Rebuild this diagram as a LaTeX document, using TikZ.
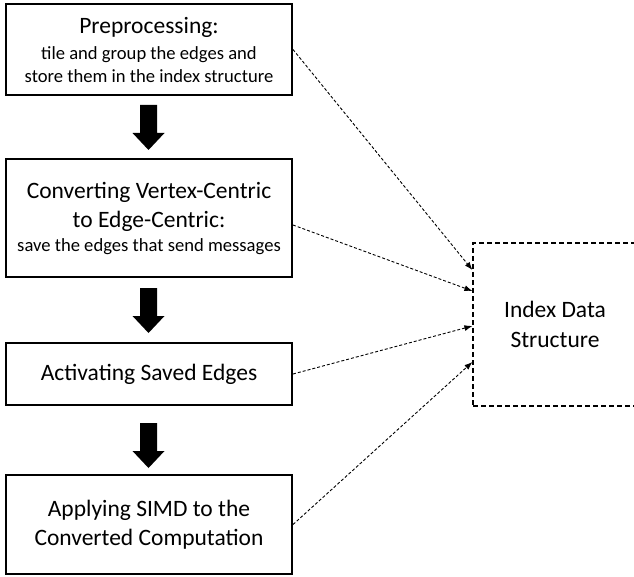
\documentclass[tikz,border=0pt]{standalone}
\usepackage{fontspec}
\setmainfont{Carlito}
\usetikzlibrary{arrows.meta}
\begin{document}
\begin{tikzpicture}[x=1pt,y=1pt,
  stepbox/.style={draw=black, line width=2pt, minimum width=286pt, align=center, inner sep=0pt},
  bigf/.style={font=\fontsize{23.5}{29.5}\selectfont},
  link/.style={densely dashed, line width=0.9pt, -{Latex[length=8pt,width=6pt]}},
  blockarr/.pic={\fill[black] (-8.5,0) -- (8.5,0) -- (8.5,-28) -- (16,-28) -- (0,-45) -- (-16,-28) -- (-8.5,-28) -- cycle;}]
\useasboundingbox (0,0) rectangle (634,-577);
\newcommand{\smallf}{\fontsize{18.6}{22.7}\selectfont}
\node[stepbox, bigf, minimum height=91pt] (b1) at (149,-49.5)
  {Preprocessing:\\[-3pt]{\smallf tile and group the edges and}\\[-7pt]{\smallf store them in the index structure}};
\node[stepbox, bigf, minimum height=118pt] (b2) at (149,-218)
  {Converting Vertex-Centric\\to Edge-Centric:\\[-6pt]{\smallf save the edges that send messages}};
\node[stepbox, bigf, minimum height=62pt] (b3) at (149,-374) {Activating Saved Edges};
\node[stepbox, bigf, minimum height=99pt] (b4) at (149,-524.5) {Applying SIMD to the\\Converted Computation};
\node[draw=black, line width=1.2pt, dash pattern=on 5pt off 3pt, minimum width=164pt, minimum height=163pt,
  bigf, align=center, inner sep=0pt] (idx) at (555,-324.5) {Index Data\\Structure};
\pic at (148.5,-105) {blockarr};
\pic at (148.5,-288) {blockarr};
\pic at (148.5,-423) {blockarr};
\coordinate (i1) at ([yshift=54.5pt]idx.west);
\coordinate (i2) at ([yshift=33.5pt]idx.west);
\coordinate (i3) at ([yshift=-1.5pt]idx.west);
\coordinate (i4) at ([yshift=-37.5pt]idx.west);
\draw[link] (b1.east) -- (i1);
\draw[link] ([yshift=-7pt]b2.east) -- (i2);
\draw[link] (b3.east) -- (i3);
\draw[link] (b4.east) -- (i4);
\end{tikzpicture}
\end{document}
